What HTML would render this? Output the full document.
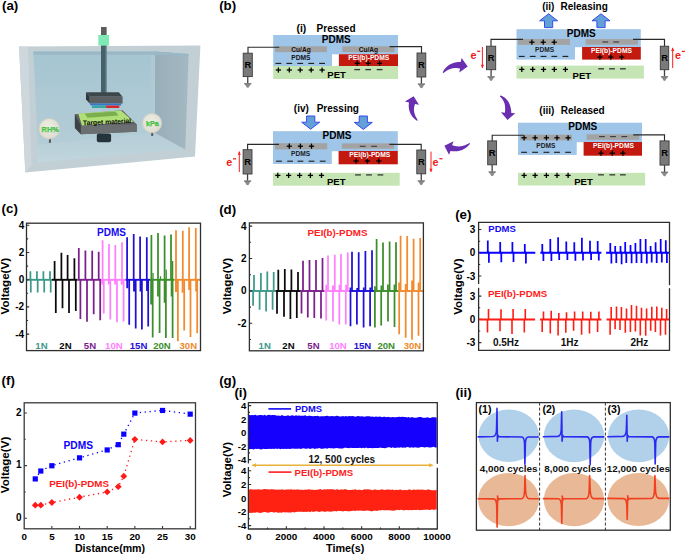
<!DOCTYPE html><html><head><meta charset="utf-8"><style>html,body{margin:0;padding:0;background:#fff;}svg{display:block;}text{font-family:"Liberation Sans",sans-serif;}</style></head><body>
<svg width="685" height="555" viewBox="0 0 685 555">
<rect x="0.00" y="0.00" width="685.00" height="555.00" fill="#fff" />
<text x="2.00" y="9.60" font-size="13.3" font-weight="bold" fill="#000" text-anchor="start" >(a)</text>
<text x="219.20" y="9.90" font-size="13.3" font-weight="bold" fill="#000" text-anchor="start" >(b)</text>
<text x="1.60" y="213.20" font-size="13.3" font-weight="bold" fill="#000" text-anchor="start" >(c)</text>
<text x="219.20" y="213.60" font-size="13.3" font-weight="bold" fill="#000" text-anchor="start" >(d)</text>
<text x="455.20" y="218.60" font-size="13.3" font-weight="bold" fill="#000" text-anchor="start" >(e)</text>
<text x="1.60" y="385.00" font-size="13.3" font-weight="bold" fill="#000" text-anchor="start" >(f)</text>
<text x="219.20" y="384.60" font-size="13.3" font-weight="bold" fill="#000" text-anchor="start" >(g)</text>
<g>
<defs><linearGradient id="bw" x1="0" y1="0" x2="0" y2="1"><stop offset="0" stop-color="#a5c5d1"/><stop offset="1" stop-color="#b4cdd7"/></linearGradient><linearGradient id="fl" x1="0" y1="0" x2="0" y2="1"><stop offset="0" stop-color="#b5cdd7"/><stop offset="1" stop-color="#c1d6de"/></linearGradient><linearGradient id="rw" x1="0" y1="0" x2="1" y2="0"><stop offset="0" stop-color="#98aeb9"/><stop offset="1" stop-color="#a3b8c1"/></linearGradient><radialGradient id="gauge" cx="0.45" cy="0.4" r="0.6"><stop offset="0" stop-color="#efeee4"/><stop offset="1" stop-color="#dedccf"/></radialGradient></defs>
<polygon points="19.00,46.50 200.40,45.50 195.00,156.40 25.30,172.50" fill="#c2cfd4" />
<polygon points="19.00,46.50 28.00,46.80 31.50,165.00 25.30,172.50" fill="#cdd7dc" />
<polygon points="33.40,51.40 155.00,51.40 155.00,133.00 37.70,145.00" fill="url(#bw)" />
<polygon points="37.70,145.00 155.00,133.00 185.30,149.60 37.70,162.60" fill="url(#fl)" />
<polygon points="155.00,51.40 188.60,53.90 185.30,149.60 155.00,133.00" fill="url(#rw)" />
<polygon points="150.50,51.40 155.00,51.40 155.00,133.00 150.50,134.00" fill="#b0cbd5" opacity="0.6"/>
<polygon points="33.40,51.40 155.00,51.40 188.60,53.90 188.60,56.00 155.00,54.80 33.40,54.80" fill="#9ab8c6" />
<rect x="101.00" y="27.00" width="5.40" height="66.00" fill="#47616b" />
<rect x="101.00" y="27.00" width="5.40" height="19.50" fill="#5b5d5f" />
<rect x="105.20" y="46.00" width="1.20" height="46.00" fill="#5e7c86" />
<rect x="98.30" y="35.00" width="10.70" height="10.60" fill="#80eab6" />
<polygon points="86.00,92.30 118.80,92.30 122.60,96.80 89.80,96.80" fill="#3c474c" />
<polygon points="86.00,92.30 89.80,96.80 89.80,103.60 86.00,99.50" fill="#2f383c" />
<rect x="89.80" y="96.80" width="32.80" height="6.80" fill="#5b5f62" />
<polygon points="89.50,103.60 121.20,103.60 121.20,105.60 90.80,105.60" fill="#3a76cc" />
<rect x="92.00" y="105.50" width="14.20" height="2.50" fill="#36a6a6" />
<rect x="106.10" y="105.50" width="13.20" height="2.50" fill="#d42a2a" />
<polygon points="74.90,114.20 122.50,110.30 136.80,124.50 136.80,131.70 80.90,134.20 74.90,128.00" fill="#5f6264" />
<polygon points="74.90,114.20 80.90,125.40 80.90,134.20 74.90,128.00" fill="#3e4346" />
<polygon points="80.90,125.40 136.80,124.50 136.80,131.70 80.90,134.20" fill="#6c6f71" />
<polygon points="78.20,113.50 121.00,110.50 133.60,121.80 82.00,125.60" fill="#b0df78" />
<polygon points="84.50,113.40 115.50,111.40 118.50,115.50 87.50,117.80" fill="#6a9e42" opacity="0.75"/>
<text x="107.00" y="124.20" font-size="6.8" font-weight="bold" fill="#0a0a0a" text-anchor="middle" transform="rotate(-2.6 107 122)">Target material</text>
<rect x="96.80" y="133.50" width="14.30" height="8.70" fill="#25333a" rx="2"/>
<rect x="48.90" y="137.50" width="2.10" height="5.30" fill="#5a5a5a" />
<circle cx="49.3" cy="128.8" r="10.3" fill="url(#gauge)" stroke="#cfcfc3" stroke-width="0.8"/>
<text x="50.20" y="132.20" font-size="7.4" font-weight="bold" fill="#44e044" text-anchor="middle" stroke="#3a9a3a" stroke-width="0.25">RH%</text>
<rect x="151.20" y="131.00" width="2.00" height="5.00" fill="#5a5a5a" />
<circle cx="152.1" cy="123.1" r="9.6" fill="url(#gauge)" stroke="#cfcfc3" stroke-width="0.8"/>
<text x="152.30" y="125.70" font-size="7.2" font-weight="bold" fill="#44e044" text-anchor="middle" stroke="#3a9a3a" stroke-width="0.25">kPa</text>
</g>
<g>
<rect x="273.20" y="35.00" width="124.80" height="19.30" fill="#9fc5e8" />
<rect x="273.20" y="54.00" width="58.80" height="12.00" fill="#9fc5e8" />
<rect x="338.90" y="54.20" width="59.10" height="11.80" fill="#c4190f" />
<rect x="273.20" y="66.00" width="124.80" height="13.00" fill="#c6e5b4" />
<rect x="275.10" y="46.30" width="51.80" height="5.80" fill="#a3a3a3" />
<rect x="342.30" y="46.30" width="52.20" height="5.80" fill="#a3a3a3" />
<text x="296.50" y="32.00" font-size="10.4" font-weight="bold" fill="#000" text-anchor="start" >(i)</text>
<text x="316.60" y="31.90" font-size="10" font-weight="bold" fill="#000" text-anchor="start" >Pressed</text>
<text x="336.30" y="43.00" font-size="10" font-weight="bold" fill="#000" text-anchor="middle" >PDMS</text>
<text x="301.00" y="51.60" font-size="6.6" font-weight="bold" fill="#111" text-anchor="middle" >Cu/Ag</text>
<text x="368.40" y="51.60" font-size="6.6" font-weight="bold" fill="#111" text-anchor="middle" >Cu/Ag</text>
<text x="300.90" y="59.90" font-size="6.6" font-weight="bold" fill="#111" text-anchor="middle" >PDMS</text>
<text x="368.80" y="60.30" font-size="6.7" font-weight="bold" fill="#fff" text-anchor="middle" >PEI(b)-PDMS</text>
<line x1="275.50" y1="63.40" x2="281.30" y2="63.40" stroke="#1a1a1a" stroke-width="1.1" />
<line x1="275.80" y1="70.00" x2="281.00" y2="70.00" stroke="#000" stroke-width="1.3" />
<line x1="278.40" y1="67.40" x2="278.40" y2="72.60" stroke="#000" stroke-width="1.3" />
<line x1="286.40" y1="63.40" x2="292.20" y2="63.40" stroke="#1a1a1a" stroke-width="1.1" />
<line x1="286.70" y1="70.00" x2="291.90" y2="70.00" stroke="#000" stroke-width="1.3" />
<line x1="289.30" y1="67.40" x2="289.30" y2="72.60" stroke="#000" stroke-width="1.3" />
<line x1="297.30" y1="63.40" x2="303.10" y2="63.40" stroke="#1a1a1a" stroke-width="1.1" />
<line x1="297.60" y1="70.00" x2="302.80" y2="70.00" stroke="#000" stroke-width="1.3" />
<line x1="300.20" y1="67.40" x2="300.20" y2="72.60" stroke="#000" stroke-width="1.3" />
<line x1="308.30" y1="63.40" x2="314.10" y2="63.40" stroke="#1a1a1a" stroke-width="1.1" />
<line x1="308.60" y1="70.00" x2="313.80" y2="70.00" stroke="#000" stroke-width="1.3" />
<line x1="311.20" y1="67.40" x2="311.20" y2="72.60" stroke="#000" stroke-width="1.3" />
<line x1="319.20" y1="63.40" x2="325.00" y2="63.40" stroke="#1a1a1a" stroke-width="1.1" />
<line x1="319.50" y1="70.00" x2="324.70" y2="70.00" stroke="#000" stroke-width="1.3" />
<line x1="322.10" y1="67.40" x2="322.10" y2="72.60" stroke="#000" stroke-width="1.3" />
<line x1="354.60" y1="63.30" x2="359.80" y2="63.30" stroke="#000" stroke-width="1.3" />
<line x1="357.20" y1="60.70" x2="357.20" y2="65.90" stroke="#000" stroke-width="1.3" />
<line x1="354.30" y1="69.60" x2="360.10" y2="69.60" stroke="#3c3c3c" stroke-width="1.35" />
<line x1="365.60" y1="63.30" x2="370.80" y2="63.30" stroke="#000" stroke-width="1.3" />
<line x1="368.20" y1="60.70" x2="368.20" y2="65.90" stroke="#000" stroke-width="1.3" />
<line x1="365.30" y1="69.60" x2="371.10" y2="69.60" stroke="#3c3c3c" stroke-width="1.35" />
<line x1="377.00" y1="63.30" x2="382.20" y2="63.30" stroke="#000" stroke-width="1.3" />
<line x1="379.60" y1="60.70" x2="379.60" y2="65.90" stroke="#000" stroke-width="1.3" />
<line x1="376.70" y1="69.60" x2="382.50" y2="69.60" stroke="#3c3c3c" stroke-width="1.35" />
<text x="336.60" y="78.40" font-size="9.5" font-weight="bold" fill="#000" text-anchor="middle" >PET</text>
<polyline points="248.00,53.20 248.00,47.20 279.30,47.20" fill="none" stroke="#2a2a2a" stroke-width="1.15"/>
<polyline points="389.60,46.60 421.50,46.60 421.50,53.00" fill="none" stroke="#2a2a2a" stroke-width="1.15"/>
<rect x="243.20" y="53.20" width="9.10" height="23.40" fill="#7a7a7a" stroke="#3a3a3a" stroke-width="0.9"/>
<text x="247.85" y="67.60" font-size="9.4" font-weight="bold" fill="#000" text-anchor="middle" >R</text>
<line x1="247.75" y1="76.60" x2="247.75" y2="83.50" stroke="#404040" stroke-width="1.3" />
<polygon points="244.15,83.20 251.35,83.20 248.95,87.00 246.55,87.00" fill="#8c8c8c" />
<line x1="244.15" y1="83.80" x2="251.35" y2="83.80" stroke="#777" stroke-width="1.1" />
<line x1="246.75" y1="87.20" x2="248.75" y2="87.20" stroke="#777" stroke-width="0.9" />
<rect x="417.00" y="53.00" width="8.80" height="24.00" fill="#7a7a7a" stroke="#3a3a3a" stroke-width="0.9"/>
<text x="421.50" y="67.70" font-size="9.4" font-weight="bold" fill="#000" text-anchor="middle" >R</text>
<line x1="421.40" y1="77.00" x2="421.40" y2="83.90" stroke="#404040" stroke-width="1.3" />
<polygon points="417.80,83.60 425.00,83.60 422.60,87.40 420.20,87.40" fill="#8c8c8c" />
<line x1="417.80" y1="84.20" x2="425.00" y2="84.20" stroke="#777" stroke-width="1.1" />
<line x1="420.40" y1="87.60" x2="422.40" y2="87.60" stroke="#777" stroke-width="0.9" />
<polygon points="548.60,13.80 557.60,20.80 552.70,20.80 552.70,27.60 544.50,27.60 544.50,20.80 539.60,20.80" fill="#64a0d8" stroke="#2f45ee" stroke-width="0.95"/>
<polygon points="601.00,13.80 610.00,20.80 605.10,20.80 605.10,27.60 596.90,27.60 596.90,20.80 592.00,20.80" fill="#64a0d8" stroke="#2f45ee" stroke-width="0.95"/>
<rect x="516.50" y="29.20" width="124.30" height="18.00" fill="#9fc5e8" />
<rect x="516.50" y="47.00" width="58.50" height="12.60" fill="#9fc5e8" />
<rect x="582.10" y="47.00" width="58.70" height="12.60" fill="#c4190f" />
<rect x="516.50" y="65.60" width="127.40" height="13.00" fill="#c6e5b4" />
<rect x="518.00" y="38.90" width="52.00" height="6.00" fill="#a3a3a3" />
<rect x="585.60" y="39.10" width="52.40" height="5.60" fill="#a3a3a3" />
<text x="542.20" y="10.30" font-size="10" font-weight="bold" fill="#000" text-anchor="start" >(ii)</text>
<text x="560.50" y="10.30" font-size="10" font-weight="bold" fill="#000" text-anchor="start" >Releasing</text>
<text x="581.30" y="36.80" font-size="10" font-weight="bold" fill="#000" text-anchor="middle" >PDMS</text>
<line x1="529.30" y1="42.20" x2="534.50" y2="42.20" stroke="#000" stroke-width="1.3" />
<line x1="531.90" y1="39.60" x2="531.90" y2="44.80" stroke="#000" stroke-width="1.3" />
<line x1="540.60" y1="42.20" x2="545.80" y2="42.20" stroke="#000" stroke-width="1.3" />
<line x1="543.20" y1="39.60" x2="543.20" y2="44.80" stroke="#000" stroke-width="1.3" />
<line x1="551.60" y1="42.20" x2="556.80" y2="42.20" stroke="#000" stroke-width="1.3" />
<line x1="554.20" y1="39.60" x2="554.20" y2="44.80" stroke="#000" stroke-width="1.3" />
<text x="544.60" y="52.40" font-size="6.6" font-weight="bold" fill="#222" text-anchor="middle" >PDMS</text>
<line x1="518.90" y1="56.40" x2="524.70" y2="56.40" stroke="#1a1a1a" stroke-width="1.1" />
<line x1="519.20" y1="69.40" x2="524.40" y2="69.40" stroke="#000" stroke-width="1.3" />
<line x1="521.80" y1="66.80" x2="521.80" y2="72.00" stroke="#000" stroke-width="1.3" />
<line x1="529.80" y1="56.40" x2="535.60" y2="56.40" stroke="#1a1a1a" stroke-width="1.1" />
<line x1="530.10" y1="69.40" x2="535.30" y2="69.40" stroke="#000" stroke-width="1.3" />
<line x1="532.70" y1="66.80" x2="532.70" y2="72.00" stroke="#000" stroke-width="1.3" />
<line x1="540.60" y1="56.40" x2="546.40" y2="56.40" stroke="#1a1a1a" stroke-width="1.1" />
<line x1="540.90" y1="69.40" x2="546.10" y2="69.40" stroke="#000" stroke-width="1.3" />
<line x1="543.50" y1="66.80" x2="543.50" y2="72.00" stroke="#000" stroke-width="1.3" />
<line x1="551.40" y1="56.40" x2="557.20" y2="56.40" stroke="#1a1a1a" stroke-width="1.1" />
<line x1="551.70" y1="69.40" x2="556.90" y2="69.40" stroke="#000" stroke-width="1.3" />
<line x1="554.30" y1="66.80" x2="554.30" y2="72.00" stroke="#000" stroke-width="1.3" />
<line x1="562.50" y1="56.40" x2="568.30" y2="56.40" stroke="#1a1a1a" stroke-width="1.1" />
<line x1="562.80" y1="69.40" x2="568.00" y2="69.40" stroke="#000" stroke-width="1.3" />
<line x1="565.40" y1="66.80" x2="565.40" y2="72.00" stroke="#000" stroke-width="1.3" />
<line x1="602.40" y1="42.00" x2="608.20" y2="42.00" stroke="#3a3a3a" stroke-width="1.1" />
<line x1="613.30" y1="42.00" x2="619.10" y2="42.00" stroke="#3a3a3a" stroke-width="1.1" />
<text x="611.50" y="53.00" font-size="6.7" font-weight="bold" fill="#fff" text-anchor="middle" >PEI(b)-PDMS</text>
<line x1="597.30" y1="57.10" x2="602.50" y2="57.10" stroke="#000" stroke-width="1.3" />
<line x1="599.90" y1="54.50" x2="599.90" y2="59.70" stroke="#000" stroke-width="1.3" />
<line x1="608.20" y1="57.10" x2="613.40" y2="57.10" stroke="#000" stroke-width="1.3" />
<line x1="610.80" y1="54.50" x2="610.80" y2="59.70" stroke="#000" stroke-width="1.3" />
<line x1="619.10" y1="57.10" x2="624.30" y2="57.10" stroke="#000" stroke-width="1.3" />
<line x1="621.70" y1="54.50" x2="621.70" y2="59.70" stroke="#000" stroke-width="1.3" />
<line x1="598.20" y1="68.80" x2="604.00" y2="68.80" stroke="#3c3c3c" stroke-width="1.35" />
<line x1="609.10" y1="68.80" x2="614.90" y2="68.80" stroke="#3c3c3c" stroke-width="1.35" />
<line x1="620.00" y1="68.80" x2="625.80" y2="68.80" stroke="#3c3c3c" stroke-width="1.35" />
<text x="581.80" y="78.60" font-size="9.5" font-weight="bold" fill="#000" text-anchor="middle" >PET</text>
<polyline points="491.00,46.20 491.00,39.40 523.00,39.40" fill="none" stroke="#2a2a2a" stroke-width="1.15"/>
<polyline points="633.00,39.40 664.50,39.40 664.50,46.20" fill="none" stroke="#2a2a2a" stroke-width="1.15"/>
<rect x="486.50" y="46.20" width="9.20" height="23.50" fill="#7a7a7a" stroke="#3a3a3a" stroke-width="0.9"/>
<text x="491.20" y="60.65" font-size="9.4" font-weight="bold" fill="#000" text-anchor="middle" >R</text>
<line x1="491.10" y1="69.70" x2="491.10" y2="76.60" stroke="#404040" stroke-width="1.3" />
<polygon points="487.50,76.30 494.70,76.30 492.30,80.10 489.90,80.10" fill="#8c8c8c" />
<line x1="487.50" y1="76.90" x2="494.70" y2="76.90" stroke="#777" stroke-width="1.1" />
<line x1="490.10" y1="80.30" x2="492.10" y2="80.30" stroke="#777" stroke-width="0.9" />
<rect x="660.30" y="46.20" width="8.40" height="23.50" fill="#7a7a7a" stroke="#3a3a3a" stroke-width="0.9"/>
<text x="664.60" y="60.65" font-size="9.4" font-weight="bold" fill="#000" text-anchor="middle" >R</text>
<line x1="664.50" y1="69.70" x2="664.50" y2="76.60" stroke="#404040" stroke-width="1.3" />
<polygon points="660.90,76.30 668.10,76.30 665.70,80.10 663.30,80.10" fill="#8c8c8c" />
<line x1="660.90" y1="76.90" x2="668.10" y2="76.90" stroke="#777" stroke-width="1.1" />
<line x1="663.50" y1="80.30" x2="665.50" y2="80.30" stroke="#777" stroke-width="0.9" />
<line x1="482.40" y1="47.00" x2="482.40" y2="68.00" stroke="#ff1c1c" stroke-width="1" />
<polygon points="480.80,64.80 484.00,64.80 482.40,68.00" fill="#ff1c1c" />
<text x="470.40" y="58.90" font-size="10.8" font-weight="bold" fill="#f02020" text-anchor="start" >e</text>
<line x1="477.20" y1="51.30" x2="480.30" y2="51.30" stroke="#f02020" stroke-width="1.3" />
<line x1="672.70" y1="68.00" x2="672.70" y2="47.80" stroke="#ff1c1c" stroke-width="1" />
<polygon points="671.10,51.00 674.30,51.00 672.70,47.80" fill="#ff1c1c" />
<text x="675.00" y="59.00" font-size="10.8" font-weight="bold" fill="#f02020" text-anchor="start" >e</text>
<line x1="681.80" y1="51.40" x2="684.90" y2="51.40" stroke="#f02020" stroke-width="1.3" />
<rect x="518.00" y="122.70" width="124.00" height="19.50" fill="#9fc5e8" />
<rect x="518.00" y="142.00" width="58.70" height="12.90" fill="#9fc5e8" />
<rect x="583.60" y="142.00" width="58.40" height="13.70" fill="#c4190f" />
<rect x="518.00" y="172.80" width="127.10" height="12.70" fill="#c6e5b4" />
<rect x="520.20" y="134.70" width="51.80" height="5.60" fill="#a3a3a3" />
<rect x="586.60" y="134.30" width="52.60" height="5.50" fill="#a3a3a3" />
<text x="539.30" y="113.50" font-size="10" font-weight="bold" fill="#000" text-anchor="start" >(iii)</text>
<text x="560.80" y="113.50" font-size="10" font-weight="bold" fill="#000" text-anchor="start" >Released</text>
<text x="582.70" y="130.20" font-size="10" font-weight="bold" fill="#000" text-anchor="middle" >PDMS</text>
<line x1="521.50" y1="137.80" x2="526.70" y2="137.80" stroke="#000" stroke-width="1.3" />
<line x1="524.10" y1="135.20" x2="524.10" y2="140.40" stroke="#000" stroke-width="1.3" />
<line x1="521.20" y1="152.30" x2="527.00" y2="152.30" stroke="#1a1a1a" stroke-width="1.1" />
<line x1="521.50" y1="175.40" x2="526.70" y2="175.40" stroke="#000" stroke-width="1.3" />
<line x1="524.10" y1="172.80" x2="524.10" y2="178.00" stroke="#000" stroke-width="1.3" />
<line x1="532.50" y1="137.80" x2="537.70" y2="137.80" stroke="#000" stroke-width="1.3" />
<line x1="535.10" y1="135.20" x2="535.10" y2="140.40" stroke="#000" stroke-width="1.3" />
<line x1="532.20" y1="152.30" x2="538.00" y2="152.30" stroke="#1a1a1a" stroke-width="1.1" />
<line x1="532.50" y1="175.40" x2="537.70" y2="175.40" stroke="#000" stroke-width="1.3" />
<line x1="535.10" y1="172.80" x2="535.10" y2="178.00" stroke="#000" stroke-width="1.3" />
<line x1="543.80" y1="137.80" x2="549.00" y2="137.80" stroke="#000" stroke-width="1.3" />
<line x1="546.40" y1="135.20" x2="546.40" y2="140.40" stroke="#000" stroke-width="1.3" />
<line x1="543.50" y1="152.30" x2="549.30" y2="152.30" stroke="#1a1a1a" stroke-width="1.1" />
<line x1="543.80" y1="175.40" x2="549.00" y2="175.40" stroke="#000" stroke-width="1.3" />
<line x1="546.40" y1="172.80" x2="546.40" y2="178.00" stroke="#000" stroke-width="1.3" />
<line x1="554.40" y1="137.80" x2="559.60" y2="137.80" stroke="#000" stroke-width="1.3" />
<line x1="557.00" y1="135.20" x2="557.00" y2="140.40" stroke="#000" stroke-width="1.3" />
<line x1="554.10" y1="152.30" x2="559.90" y2="152.30" stroke="#1a1a1a" stroke-width="1.1" />
<line x1="554.40" y1="175.40" x2="559.60" y2="175.40" stroke="#000" stroke-width="1.3" />
<line x1="557.00" y1="172.80" x2="557.00" y2="178.00" stroke="#000" stroke-width="1.3" />
<line x1="565.50" y1="137.80" x2="570.70" y2="137.80" stroke="#000" stroke-width="1.3" />
<line x1="568.10" y1="135.20" x2="568.10" y2="140.40" stroke="#000" stroke-width="1.3" />
<line x1="565.20" y1="152.30" x2="571.00" y2="152.30" stroke="#1a1a1a" stroke-width="1.1" />
<line x1="565.50" y1="175.40" x2="570.70" y2="175.40" stroke="#000" stroke-width="1.3" />
<line x1="568.10" y1="172.80" x2="568.10" y2="178.00" stroke="#000" stroke-width="1.3" />
<text x="545.90" y="148.00" font-size="6.6" font-weight="bold" fill="#222" text-anchor="middle" >PDMS</text>
<line x1="599.10" y1="136.60" x2="604.90" y2="136.60" stroke="#3a3a3a" stroke-width="1.1" />
<line x1="610.10" y1="136.60" x2="615.90" y2="136.60" stroke="#3a3a3a" stroke-width="1.1" />
<line x1="621.40" y1="136.60" x2="627.20" y2="136.60" stroke="#3a3a3a" stroke-width="1.1" />
<text x="613.50" y="148.20" font-size="6.7" font-weight="bold" fill="#fff" text-anchor="middle" >PEI(b)-PDMS</text>
<line x1="598.40" y1="153.20" x2="603.60" y2="153.20" stroke="#000" stroke-width="1.3" />
<line x1="601.00" y1="150.60" x2="601.00" y2="155.80" stroke="#000" stroke-width="1.3" />
<line x1="598.10" y1="174.80" x2="603.90" y2="174.80" stroke="#4a4f4a" stroke-width="1.5" />
<line x1="609.70" y1="153.20" x2="614.90" y2="153.20" stroke="#000" stroke-width="1.3" />
<line x1="612.30" y1="150.60" x2="612.30" y2="155.80" stroke="#000" stroke-width="1.3" />
<line x1="609.40" y1="174.80" x2="615.20" y2="174.80" stroke="#4a4f4a" stroke-width="1.5" />
<line x1="620.30" y1="153.20" x2="625.50" y2="153.20" stroke="#000" stroke-width="1.3" />
<line x1="622.90" y1="150.60" x2="622.90" y2="155.80" stroke="#000" stroke-width="1.3" />
<line x1="620.00" y1="174.80" x2="625.80" y2="174.80" stroke="#4a4f4a" stroke-width="1.5" />
<text x="583.50" y="184.80" font-size="9.5" font-weight="bold" fill="#000" text-anchor="middle" >PET</text>
<polyline points="492.20,140.90 492.20,135.20 523.60,135.20" fill="none" stroke="#2a2a2a" stroke-width="1.15"/>
<polyline points="633.20,134.90 664.50,134.90 664.50,140.90" fill="none" stroke="#2a2a2a" stroke-width="1.15"/>
<rect x="487.70" y="140.90" width="8.90" height="23.90" fill="#7a7a7a" stroke="#3a3a3a" stroke-width="0.9"/>
<text x="492.25" y="155.55" font-size="9.4" font-weight="bold" fill="#000" text-anchor="middle" >R</text>
<line x1="492.15" y1="164.80" x2="492.15" y2="171.70" stroke="#404040" stroke-width="1.3" />
<polygon points="488.55,171.40 495.75,171.40 493.35,175.20 490.95,175.20" fill="#8c8c8c" />
<line x1="488.55" y1="172.00" x2="495.75" y2="172.00" stroke="#777" stroke-width="1.1" />
<line x1="491.15" y1="175.40" x2="493.15" y2="175.40" stroke="#777" stroke-width="0.9" />
<rect x="660.00" y="140.90" width="9.10" height="24.20" fill="#7a7a7a" stroke="#3a3a3a" stroke-width="0.9"/>
<text x="664.65" y="155.70" font-size="9.4" font-weight="bold" fill="#000" text-anchor="middle" >R</text>
<line x1="664.55" y1="165.10" x2="664.55" y2="172.00" stroke="#404040" stroke-width="1.3" />
<polygon points="660.95,171.70 668.15,171.70 665.75,175.50 663.35,175.50" fill="#8c8c8c" />
<line x1="660.95" y1="172.30" x2="668.15" y2="172.30" stroke="#777" stroke-width="1.1" />
<line x1="663.55" y1="175.70" x2="665.55" y2="175.70" stroke="#777" stroke-width="0.9" />
<polygon points="310.70,129.20 319.70,122.20 314.80,122.20 314.80,116.00 306.60,116.00 306.60,122.20 301.70,122.20" fill="#64a0d8" stroke="#2f45ee" stroke-width="0.95"/>
<polygon points="363.30,129.40 372.30,122.40 367.40,122.40 367.40,116.00 359.20,116.00 359.20,122.40 354.30,122.40" fill="#64a0d8" stroke="#2f45ee" stroke-width="0.95"/>
<rect x="273.00" y="131.20" width="124.80" height="20.00" fill="#9fc5e8" />
<rect x="273.00" y="151.00" width="58.80" height="13.00" fill="#9fc5e8" />
<rect x="338.60" y="151.00" width="59.20" height="13.30" fill="#c4190f" />
<rect x="273.00" y="172.80" width="126.70" height="12.90" fill="#c6e5b4" />
<rect x="275.00" y="143.20" width="52.20" height="6.20" fill="#a3a3a3" />
<rect x="341.80" y="143.40" width="52.20" height="5.30" fill="#a3a3a3" />
<text x="293.80" y="112.10" font-size="10" font-weight="bold" fill="#000" text-anchor="start" >(iv)</text>
<text x="316.70" y="112.10" font-size="10" font-weight="bold" fill="#000" text-anchor="start" >Pressing</text>
<text x="337.00" y="139.20" font-size="10" font-weight="bold" fill="#000" text-anchor="middle" >PDMS</text>
<line x1="286.70" y1="146.20" x2="291.90" y2="146.20" stroke="#000" stroke-width="1.3" />
<line x1="289.30" y1="143.60" x2="289.30" y2="148.80" stroke="#000" stroke-width="1.3" />
<line x1="297.80" y1="146.20" x2="303.00" y2="146.20" stroke="#000" stroke-width="1.3" />
<line x1="300.40" y1="143.60" x2="300.40" y2="148.80" stroke="#000" stroke-width="1.3" />
<line x1="308.90" y1="146.20" x2="314.10" y2="146.20" stroke="#000" stroke-width="1.3" />
<line x1="311.50" y1="143.60" x2="311.50" y2="148.80" stroke="#000" stroke-width="1.3" />
<text x="300.60" y="156.30" font-size="6.6" font-weight="bold" fill="#222" text-anchor="middle" >PDMS</text>
<line x1="276.10" y1="161.20" x2="281.90" y2="161.20" stroke="#1a1a1a" stroke-width="1.1" />
<line x1="287.20" y1="161.20" x2="293.00" y2="161.20" stroke="#1a1a1a" stroke-width="1.1" />
<line x1="297.50" y1="161.20" x2="303.30" y2="161.20" stroke="#1a1a1a" stroke-width="1.1" />
<line x1="308.60" y1="161.20" x2="314.40" y2="161.20" stroke="#1a1a1a" stroke-width="1.1" />
<line x1="319.80" y1="161.20" x2="325.60" y2="161.20" stroke="#1a1a1a" stroke-width="1.1" />
<line x1="275.20" y1="175.40" x2="280.40" y2="175.40" stroke="#000" stroke-width="1.3" />
<line x1="277.80" y1="172.80" x2="277.80" y2="178.00" stroke="#000" stroke-width="1.3" />
<line x1="286.00" y1="175.40" x2="291.20" y2="175.40" stroke="#000" stroke-width="1.3" />
<line x1="288.60" y1="172.80" x2="288.60" y2="178.00" stroke="#000" stroke-width="1.3" />
<line x1="297.00" y1="175.40" x2="302.20" y2="175.40" stroke="#000" stroke-width="1.3" />
<line x1="299.60" y1="172.80" x2="299.60" y2="178.00" stroke="#000" stroke-width="1.3" />
<line x1="307.80" y1="175.40" x2="313.00" y2="175.40" stroke="#000" stroke-width="1.3" />
<line x1="310.40" y1="172.80" x2="310.40" y2="178.00" stroke="#000" stroke-width="1.3" />
<line x1="318.90" y1="175.40" x2="324.10" y2="175.40" stroke="#000" stroke-width="1.3" />
<line x1="321.50" y1="172.80" x2="321.50" y2="178.00" stroke="#000" stroke-width="1.3" />
<line x1="359.80" y1="146.30" x2="365.60" y2="146.30" stroke="#3a3a3a" stroke-width="1.1" />
<line x1="371.20" y1="146.30" x2="377.00" y2="146.30" stroke="#3a3a3a" stroke-width="1.1" />
<text x="369.80" y="156.70" font-size="6.7" font-weight="bold" fill="#fff" text-anchor="middle" >PEI(b)-PDMS</text>
<line x1="353.50" y1="161.00" x2="358.70" y2="161.00" stroke="#000" stroke-width="1.3" />
<line x1="356.10" y1="158.40" x2="356.10" y2="163.60" stroke="#000" stroke-width="1.3" />
<line x1="364.80" y1="161.00" x2="370.00" y2="161.00" stroke="#000" stroke-width="1.3" />
<line x1="367.40" y1="158.40" x2="367.40" y2="163.60" stroke="#000" stroke-width="1.3" />
<line x1="376.20" y1="161.00" x2="381.40" y2="161.00" stroke="#000" stroke-width="1.3" />
<line x1="378.80" y1="158.40" x2="378.80" y2="163.60" stroke="#000" stroke-width="1.3" />
<line x1="355.10" y1="174.90" x2="360.90" y2="174.90" stroke="#4a4f4a" stroke-width="1.5" />
<line x1="366.10" y1="174.90" x2="371.90" y2="174.90" stroke="#4a4f4a" stroke-width="1.5" />
<line x1="377.50" y1="174.90" x2="383.30" y2="174.90" stroke="#4a4f4a" stroke-width="1.5" />
<text x="336.20" y="185.20" font-size="9.5" font-weight="bold" fill="#000" text-anchor="middle" >PET</text>
<polyline points="247.60,149.70 247.60,144.30 279.00,144.30" fill="none" stroke="#2a2a2a" stroke-width="1.15"/>
<polyline points="389.30,144.30 421.20,144.30 421.20,150.00" fill="none" stroke="#2a2a2a" stroke-width="1.15"/>
<rect x="243.10" y="149.70" width="8.90" height="24.30" fill="#7a7a7a" stroke="#3a3a3a" stroke-width="0.9"/>
<text x="247.65" y="164.55" font-size="9.4" font-weight="bold" fill="#000" text-anchor="middle" >R</text>
<line x1="247.55" y1="174.00" x2="247.55" y2="180.90" stroke="#404040" stroke-width="1.3" />
<polygon points="243.95,180.60 251.15,180.60 248.75,184.40 246.35,184.40" fill="#8c8c8c" />
<line x1="243.95" y1="181.20" x2="251.15" y2="181.20" stroke="#777" stroke-width="1.1" />
<line x1="246.55" y1="184.60" x2="248.55" y2="184.60" stroke="#777" stroke-width="0.9" />
<rect x="416.80" y="150.00" width="8.90" height="23.80" fill="#7a7a7a" stroke="#3a3a3a" stroke-width="0.9"/>
<text x="421.35" y="164.60" font-size="9.4" font-weight="bold" fill="#000" text-anchor="middle" >R</text>
<line x1="421.25" y1="173.80" x2="421.25" y2="180.70" stroke="#404040" stroke-width="1.3" />
<polygon points="417.65,180.40 424.85,180.40 422.45,184.20 420.05,184.20" fill="#8c8c8c" />
<line x1="417.65" y1="181.00" x2="424.85" y2="181.00" stroke="#777" stroke-width="1.1" />
<line x1="420.25" y1="184.40" x2="422.25" y2="184.40" stroke="#777" stroke-width="0.9" />
<line x1="239.30" y1="172.00" x2="239.30" y2="151.50" stroke="#ff1c1c" stroke-width="1" />
<polygon points="237.70,154.70 240.90,154.70 239.30,151.50" fill="#ff1c1c" />
<text x="226.20" y="166.40" font-size="10.8" font-weight="bold" fill="#f02020" text-anchor="start" >e</text>
<line x1="233.00" y1="158.80" x2="236.10" y2="158.80" stroke="#f02020" stroke-width="1.3" />
<line x1="431.00" y1="151.60" x2="431.00" y2="171.90" stroke="#ff1c1c" stroke-width="1" />
<polygon points="429.40,168.70 432.60,168.70 431.00,171.90" fill="#ff1c1c" />
<text x="432.60" y="166.30" font-size="10.8" font-weight="bold" fill="#f02020" text-anchor="start" >e</text>
<line x1="439.40" y1="158.70" x2="442.50" y2="158.70" stroke="#f02020" stroke-width="1.3" />
<polygon points="443.28,73.01 443.89,72.65 444.42,72.26 444.94,71.88 445.45,71.52 445.95,71.17 446.45,70.84 446.95,70.53 447.45,70.24 447.95,69.97 448.45,69.71 448.95,69.48 449.45,69.26 449.95,69.07 450.46,68.89 450.96,68.73 451.47,68.58 451.97,68.46 452.48,68.35 453.00,68.26 453.51,68.18 454.03,68.12 454.56,68.08 455.08,68.05 455.62,68.03 456.15,68.04 456.70,68.05 457.25,68.09 457.80,68.14 458.37,68.20 458.94,68.28 459.51,68.38 460.10,68.49 459.22,72.40 467.70,66.40 461.58,58.00 460.70,61.91 459.93,61.92 459.17,61.95 458.42,61.99 457.69,62.06 456.96,62.16 456.24,62.27 455.53,62.41 454.83,62.57 454.15,62.75 453.48,62.95 452.82,63.17 452.17,63.42 451.54,63.69 450.92,63.98 450.32,64.28 449.73,64.62 449.16,64.97 448.60,65.34 448.06,65.73 447.53,66.14 447.02,66.56 446.53,67.01 446.06,67.48 445.60,67.96 445.16,68.47 444.73,68.99 444.33,69.53 443.94,70.08 443.58,70.66 443.24,71.26 442.93,71.89 442.72,72.59" fill="#6a2eb0" />
<polygon points="499.83,96.21 500.23,96.72 500.63,97.15 501.03,97.57 501.40,97.98 501.76,98.40 502.09,98.82 502.41,99.25 502.70,99.68 502.98,100.11 503.24,100.55 503.48,101.00 503.70,101.45 503.91,101.91 504.10,102.38 504.27,102.85 504.43,103.33 504.57,103.83 504.69,104.33 504.81,104.84 504.90,105.37 504.98,105.90 505.05,106.45 505.10,107.01 505.14,107.58 505.16,108.17 505.17,108.77 505.16,109.38 505.14,110.01 505.10,110.65 505.05,111.31 504.99,111.98 504.90,112.67 500.92,112.29 507.60,119.90 515.28,113.31 511.30,112.93 511.26,112.09 511.20,111.27 511.12,110.47 511.02,109.68 510.90,108.91 510.76,108.15 510.60,107.41 510.42,106.68 510.22,105.97 510.00,105.28 509.75,104.60 509.49,103.95 509.20,103.31 508.90,102.69 508.57,102.09 508.22,101.52 507.86,100.96 507.47,100.42 507.06,99.91 506.64,99.42 506.19,98.95 505.73,98.50 505.25,98.08 504.76,97.69 504.25,97.31 503.72,96.97 503.17,96.65 502.61,96.36 502.04,96.09 501.45,95.86 500.83,95.67 500.17,95.59" fill="#6a2eb0" />
<polygon points="417.84,120.35 417.53,119.70 417.18,119.13 416.84,118.57 416.52,118.02 416.21,117.48 415.92,116.95 415.66,116.42 415.41,115.89 415.18,115.37 414.98,114.86 414.79,114.34 414.62,113.83 414.47,113.33 414.35,112.82 414.24,112.32 414.14,111.82 414.07,111.33 414.02,110.84 413.98,110.35 413.96,109.86 413.96,109.37 413.97,108.88 414.00,108.39 414.05,107.91 414.11,107.42 414.19,106.93 414.29,106.44 414.40,105.94 414.53,105.45 414.67,104.95 414.83,104.44 415.01,103.94 419.02,104.80 413.60,96.20 404.98,101.60 408.99,102.46 408.89,103.18 408.81,103.89 408.76,104.59 408.73,105.29 408.72,105.98 408.74,106.67 408.78,107.35 408.85,108.02 408.94,108.68 409.06,109.34 409.20,109.99 409.37,110.62 409.55,111.25 409.76,111.87 410.00,112.48 410.26,113.08 410.53,113.66 410.84,114.24 411.16,114.80 411.50,115.35 411.87,115.89 412.26,116.41 412.66,116.93 413.09,117.43 413.54,117.92 414.01,118.40 414.50,118.86 415.01,119.31 415.54,119.74 416.10,120.15 416.69,120.54 417.36,120.85" fill="#6a2eb0" />
<polygon points="469.57,143.04 468.90,143.32 468.29,143.63 467.70,143.94 467.13,144.23 466.55,144.51 465.99,144.77 465.43,145.00 464.87,145.23 464.32,145.43 463.77,145.61 463.22,145.77 462.68,145.92 462.14,146.04 461.60,146.15 461.07,146.23 460.54,146.30 460.01,146.36 459.48,146.39 458.96,146.41 458.43,146.41 457.91,146.39 457.39,146.36 456.86,146.31 456.34,146.24 455.82,146.16 455.29,146.06 454.76,145.94 454.24,145.81 453.70,145.66 453.17,145.49 452.63,145.31 452.09,145.11 453.58,141.17 444.40,145.70 449.02,154.83 450.51,150.89 451.24,151.02 451.96,151.13 452.69,151.21 453.41,151.27 454.12,151.31 454.83,151.32 455.53,151.31 456.22,151.27 456.91,151.21 457.59,151.13 458.27,151.02 458.93,150.89 459.59,150.74 460.24,150.57 460.88,150.37 461.51,150.15 462.13,149.90 462.75,149.64 463.35,149.35 463.94,149.04 464.52,148.71 465.09,148.35 465.65,147.98 466.19,147.59 466.73,147.17 467.25,146.74 467.77,146.28 468.26,145.80 468.75,145.29 469.22,144.76 469.66,144.20 470.03,143.56" fill="#6a2eb0" />
</g>
<path d="M26.50,279.80H52.00" fill="none" stroke="#3d9a8a" stroke-width="1.9" />
<path d="M30.40,279.80V271.30M30.80,279.80V292.40M36.90,279.80V271.30M37.70,279.80V292.40M43.40,279.80V271.30M44.20,279.80V292.40M50.00,279.80V271.30M50.70,279.80V292.40" fill="none" stroke="#3d9a8a" stroke-width="1.75" />
<path d="M52.00,279.80H77.50" fill="none" stroke="#0a0a0a" stroke-width="1.9" />
<path d="M54.60,279.80V260.90M55.80,279.80V313.00M61.40,279.80V252.80M62.50,279.80V308.20M67.60,279.80V255.00M69.00,279.80V313.00M74.40,279.80V258.30M75.80,279.80V311.00" fill="none" stroke="#0a0a0a" stroke-width="1.75" />
<path d="M77.50,279.80H101.50" fill="none" stroke="#7b1f8c" stroke-width="1.9" />
<path d="M78.80,279.80V247.90M80.40,279.80V319.10M85.40,279.80V250.50M87.00,279.80V321.70M92.20,279.80V250.70M93.70,279.80V314.30M98.70,279.80V251.80M100.20,279.80V320.20" fill="none" stroke="#7b1f8c" stroke-width="1.75" />
<path d="M101.50,279.80H125.50" fill="none" stroke="#ff80ff" stroke-width="1.9" />
<path d="M102.60,279.80V240.30M103.80,279.80V313.50M109.00,279.80V244.10M110.30,279.80V319.40M115.30,279.80V244.90M117.00,279.80V322.30M122.00,279.80V242.30M123.60,279.80V321.40" fill="none" stroke="#ff80ff" stroke-width="1.75" />
<path d="M102.30,279.80V284.50M108.80,279.80V284.50M115.20,279.80V284.50M121.80,279.80V284.50" fill="none" stroke="#ff80ff" stroke-width="2.0" />
<path d="M125.50,279.80H150.00" fill="none" stroke="#1f10d8" stroke-width="1.9" />
<path d="M127.10,279.80V237.20M129.20,279.80V324.80M133.70,279.80V234.10M135.70,279.80V328.60M140.10,279.80V236.40M141.90,279.80V329.50M146.80,279.80V237.20M148.20,279.80V326.50" fill="none" stroke="#1f10d8" stroke-width="1.75" />
<path d="M127.30,279.80V288.20M134.10,279.80V291.40M140.60,279.80V291.40M147.10,279.80V291.00" fill="none" stroke="#1f10d8" stroke-width="2.0" />
<path d="M150.00,279.80H174.50" fill="none" stroke="#3a8f2a" stroke-width="1.9" />
<path d="M151.40,279.80V234.90M152.70,279.80V337.40M158.00,279.80V233.10M159.60,279.80V333.00M164.60,279.80V235.40M165.90,279.80V338.00M171.00,279.80V234.60M172.60,279.80V338.00" fill="none" stroke="#3a8f2a" stroke-width="1.75" />
<path d="M153.00,279.80V272.90M160.50,279.80V276.30M166.20,279.80V269.40M172.60,279.80V261.00" fill="none" stroke="#3a8f2a" stroke-width="1.3" />
<path d="M151.10,279.80V304.60M158.00,279.80V296.40M164.60,279.80V302.70M171.60,279.80V296.40" fill="none" stroke="#3a8f2a" stroke-width="1.8" />
<path d="M174.50,279.80H200.00" fill="none" stroke="#f28a2e" stroke-width="1.9" />
<path d="M176.00,279.80V230.30M177.90,279.80V341.20M182.80,279.80V230.80M184.20,279.80V330.50M189.10,279.80V227.30M190.50,279.80V337.00M195.80,279.80V228.00M197.20,279.80V333.30" fill="none" stroke="#f28a2e" stroke-width="1.75" />
<path d="M176.00,279.80V292.00M182.70,279.80V292.70M189.20,279.80V290.10M196.20,279.80V291.40" fill="none" stroke="#f28a2e" stroke-width="2.0" />
<rect x="26.50" y="223.20" width="174.00" height="127.40" fill="none" stroke="#2e2e2e" stroke-width="1.3"/>
<path d="M26.50,225.30h2.8M26.50,252.50h2.8M26.50,279.70h2.8M26.50,306.90h2.8M26.50,334.10h2.8" fill="none" stroke="#2e2e2e" stroke-width="1.1" />
<path d="M26.50,238.90h1.6M26.50,266.10h1.6M26.50,293.30h1.6M26.50,320.50h1.6" fill="none" stroke="#2e2e2e" stroke-width="1.1" />
<text x="24.20" y="228.80" font-size="10" font-weight="bold" fill="#000" text-anchor="end" >4</text>
<text x="24.20" y="256.00" font-size="10" font-weight="bold" fill="#000" text-anchor="end" >2</text>
<text x="24.20" y="283.20" font-size="10" font-weight="bold" fill="#000" text-anchor="end" >0</text>
<text x="24.20" y="310.40" font-size="10" font-weight="bold" fill="#000" text-anchor="end" >-2</text>
<text x="24.20" y="337.60" font-size="10" font-weight="bold" fill="#000" text-anchor="end" >-4</text>
<text x="111.50" y="236.00" font-size="10" font-weight="bold" fill="#1208f5" text-anchor="middle" >PDMS</text>
<text x="41.50" y="349.30" font-size="9.6" font-weight="bold" fill="#3d9a8a" text-anchor="middle" >1N</text>
<text x="65.50" y="349.30" font-size="9.6" font-weight="bold" fill="#0a0a0a" text-anchor="middle" >2N</text>
<text x="90.00" y="349.30" font-size="9.6" font-weight="bold" fill="#7b1f8c" text-anchor="middle" >5N</text>
<text x="113.90" y="349.30" font-size="9.6" font-weight="bold" fill="#ff80ff" text-anchor="middle" >10N</text>
<text x="138.60" y="349.30" font-size="9.6" font-weight="bold" fill="#1f10d8" text-anchor="middle" >15N</text>
<text x="162.00" y="349.30" font-size="9.6" font-weight="bold" fill="#3a8f2a" text-anchor="middle" >20N</text>
<text x="188.30" y="349.30" font-size="9.6" font-weight="bold" fill="#f28a2e" text-anchor="middle" >30N</text>
<text x="8.60" y="286.20" font-size="11.6" font-weight="bold" fill="#000" text-anchor="middle" transform="rotate(-90 8.6 286.2)">Voltage(V)</text>
<path d="M249.40,291.00H275.50" fill="none" stroke="#3d9a8a" stroke-width="1.9" />
<path d="M254.00,291.00V275.00M253.10,291.00V305.70M260.90,291.00V273.00M259.60,291.00V309.80M267.30,291.00V271.40M266.10,291.00V311.40M273.70,291.00V271.90M272.60,291.00V309.80" fill="none" stroke="#3d9a8a" stroke-width="1.75" />
<path d="M275.50,291.00H300.00" fill="none" stroke="#0a0a0a" stroke-width="1.9" />
<path d="M278.30,291.00V269.80M277.00,291.00V313.80M284.80,291.00V269.00M284.00,291.00V316.70M291.40,291.00V269.40M290.40,291.00V319.00M298.00,291.00V272.00M296.80,291.00V318.10" fill="none" stroke="#0a0a0a" stroke-width="1.75" />
<path d="M300.00,291.00H324.50" fill="none" stroke="#7b1f8c" stroke-width="1.9" />
<path d="M303.00,291.00V260.70M301.50,291.00V313.40M309.50,291.00V259.90M307.80,291.00V317.40M316.00,291.00V259.90M314.30,291.00V318.10M322.50,291.00V257.90M321.00,291.00V318.50" fill="none" stroke="#7b1f8c" stroke-width="1.75" />
<path d="M324.50,291.00H349.50" fill="none" stroke="#ff80ff" stroke-width="1.9" />
<path d="M328.00,291.00V255.60M326.20,291.00V320.40M334.80,291.00V254.80M333.00,291.00V321.50M341.00,291.00V254.10M339.30,291.00V324.50M347.80,291.00V252.50M345.80,291.00V324.50" fill="none" stroke="#ff80ff" stroke-width="1.75" />
<path d="M326.40,291.00V284.70M333.00,291.00V285.50M339.60,291.00V284.70M346.20,291.00V284.70" fill="none" stroke="#ff80ff" stroke-width="2.0" />
<path d="M349.50,291.00H374.00" fill="none" stroke="#1f10d8" stroke-width="1.9" />
<path d="M352.00,291.00V251.80M350.50,291.00V326.20M358.70,291.00V252.20M356.90,291.00V324.50M365.40,291.00V251.00M363.60,291.00V327.50M372.00,291.00V250.20M370.10,291.00V326.20" fill="none" stroke="#1f10d8" stroke-width="1.75" />
<path d="M350.50,291.00V287.50M357.20,291.00V288.00M363.80,291.00V287.50M370.30,291.00V287.50" fill="none" stroke="#1f10d8" stroke-width="1.8" />
<path d="M374.00,291.00H398.50" fill="none" stroke="#3a8f2a" stroke-width="1.9" />
<path d="M376.60,291.00V239.10M374.90,291.00V327.60M383.00,291.00V242.60M381.20,291.00V325.50M389.60,291.00V241.40M388.00,291.00V321.50M396.00,291.00V242.30M394.50,291.00V326.90" fill="none" stroke="#3a8f2a" stroke-width="1.75" />
<path d="M375.00,291.00V286.30M381.40,291.00V285.50M387.90,291.00V284.50M394.50,291.00V284.50" fill="none" stroke="#3a8f2a" stroke-width="1.8" />
<path d="M398.50,291.00H423.00" fill="none" stroke="#f28a2e" stroke-width="1.9" />
<path d="M400.60,291.00V235.70M399.20,291.00V334.30M407.20,291.00V236.10M405.70,291.00V337.70M413.60,291.00V238.80M412.00,291.00V339.70M420.20,291.00V238.00M418.50,291.00V335.70" fill="none" stroke="#f28a2e" stroke-width="1.75" />
<path d="M399.20,291.00V282.60M405.80,291.00V284.00M412.20,291.00V280.40M418.70,291.00V282.40" fill="none" stroke="#f28a2e" stroke-width="2.0" />
<rect x="249.40" y="222.90" width="174.00" height="127.90" fill="none" stroke="#2e2e2e" stroke-width="1.3"/>
<path d="M249.40,226.10h2.8M249.40,258.50h2.8M249.40,290.90h2.8M249.40,323.30h2.8" fill="none" stroke="#2e2e2e" stroke-width="1.1" />
<path d="M249.40,242.30h1.6M249.40,274.70h1.6M249.40,307.10h1.6M249.40,339.50h1.6" fill="none" stroke="#2e2e2e" stroke-width="1.1" />
<text x="246.50" y="229.60" font-size="10" font-weight="bold" fill="#000" text-anchor="end" >4</text>
<text x="246.50" y="262.00" font-size="10" font-weight="bold" fill="#000" text-anchor="end" >2</text>
<text x="246.50" y="294.40" font-size="10" font-weight="bold" fill="#000" text-anchor="end" >0</text>
<text x="246.50" y="326.80" font-size="10" font-weight="bold" fill="#000" text-anchor="end" >-2</text>
<text x="337.50" y="236.10" font-size="9.8" font-weight="bold" fill="#ff1c1c" text-anchor="middle" >PEI(b)-PDMS</text>
<text x="264.70" y="349.30" font-size="9.6" font-weight="bold" fill="#3d9a8a" text-anchor="middle" >1N</text>
<text x="288.50" y="349.30" font-size="9.6" font-weight="bold" fill="#0a0a0a" text-anchor="middle" >2N</text>
<text x="313.50" y="349.30" font-size="9.6" font-weight="bold" fill="#7b1f8c" text-anchor="middle" >5N</text>
<text x="338.00" y="349.30" font-size="9.6" font-weight="bold" fill="#ff80ff" text-anchor="middle" >10N</text>
<text x="362.50" y="349.30" font-size="9.6" font-weight="bold" fill="#1f10d8" text-anchor="middle" >15N</text>
<text x="386.20" y="349.30" font-size="9.6" font-weight="bold" fill="#3a8f2a" text-anchor="middle" >20N</text>
<text x="412.50" y="349.30" font-size="9.6" font-weight="bold" fill="#f28a2e" text-anchor="middle" >30N</text>
<text x="231.20" y="286.00" font-size="11.6" font-weight="bold" fill="#000" text-anchor="middle" transform="rotate(-90 231.2 286)">Voltage(V)</text>
<line x1="478.60" y1="222.40" x2="669.50" y2="222.40" stroke="#2e2e2e" stroke-width="1.3" />
<line x1="478.60" y1="350.30" x2="669.50" y2="350.30" stroke="#2e2e2e" stroke-width="1.3" />
<line x1="478.60" y1="221.80" x2="478.60" y2="284.00" stroke="#2e2e2e" stroke-width="1.3" />
<line x1="478.60" y1="287.80" x2="478.60" y2="350.90" stroke="#2e2e2e" stroke-width="1.3" />
<line x1="669.50" y1="221.80" x2="669.50" y2="285.20" stroke="#2e2e2e" stroke-width="1.3" />
<line x1="669.50" y1="288.20" x2="669.50" y2="350.90" stroke="#2e2e2e" stroke-width="1.3" />
<path d="M478.60,229.55h2.8M478.60,252.80h2.8M478.60,276.05h2.8" fill="none" stroke="#2e2e2e" stroke-width="1.1" />
<path d="M478.60,241.18h1.6M478.60,264.43h1.6" fill="none" stroke="#2e2e2e" stroke-width="1.1" />
<path d="M478.60,296.15h2.8M478.60,319.40h2.8M478.60,342.65h2.8" fill="none" stroke="#2e2e2e" stroke-width="1.1" />
<path d="M478.60,307.77h1.6M478.60,331.02h1.6" fill="none" stroke="#2e2e2e" stroke-width="1.1" />
<text x="475.40" y="233.05" font-size="10" font-weight="bold" fill="#000" text-anchor="end" >3</text>
<text x="475.40" y="256.30" font-size="10" font-weight="bold" fill="#000" text-anchor="end" >0</text>
<text x="475.40" y="279.55" font-size="10" font-weight="bold" fill="#000" text-anchor="end" >-3</text>
<text x="475.40" y="299.65" font-size="10" font-weight="bold" fill="#000" text-anchor="end" >3</text>
<text x="475.40" y="322.90" font-size="10" font-weight="bold" fill="#000" text-anchor="end" >0</text>
<text x="475.40" y="346.15" font-size="10" font-weight="bold" fill="#000" text-anchor="end" >-3</text>
<path d="M479.2,252.7H535.3M540.3,252.7H601.4M606.1,252.7H669" fill="none" stroke="#0a00ff" stroke-width="2.0" />
<path d="M487.80,240.40V252.70M488.90,252.70V262.70M500.20,242.10V252.70M501.30,252.70V262.30M512.40,242.10V252.70M513.50,252.70V262.00M524.80,244.00V252.70M525.90,252.70V263.50M542.30,244.00V252.70M543.40,252.70V260.90M550.30,239.00V252.70M551.40,252.70V261.00M558.10,237.30V252.70M559.20,252.70V260.10M566.30,241.40V252.70M567.40,252.70V260.10M574.30,242.20V252.70M575.40,252.70V260.70M581.90,237.80V252.70M583.00,252.70V260.40M590.00,240.80V252.70M591.10,252.70V260.10M597.70,241.00V252.70M598.80,252.70V260.40M610.30,243.10V252.70M611.40,252.70V263.50M615.20,246.00V252.70M616.30,252.70V263.00M620.50,246.00V252.70M621.60,252.70V264.20M625.20,242.00V252.70M626.30,252.70V263.00M630.50,244.90V252.70M631.60,252.70V263.30M635.40,242.90V252.70M636.50,252.70V263.00M640.40,239.00V252.70M641.50,252.70V263.00M645.70,239.00V252.70M646.80,252.70V263.50M650.60,246.00V252.70M651.70,252.70V262.50M655.60,242.20V252.70M656.70,252.70V263.00M660.70,239.00V252.70M661.80,252.70V262.50M665.80,240.20V252.70M666.90,252.70V263.00" fill="none" stroke="#0a00ff" stroke-width="1.75" />
<path d="M487.30,251.50l2.0,2.4M499.70,251.50l2.0,2.4M511.90,251.50l2.0,2.4M524.30,251.50l2.0,2.4M541.80,251.50l2.0,2.4M549.80,251.50l2.0,2.4M557.60,251.50l2.0,2.4M565.80,251.50l2.0,2.4M573.80,251.50l2.0,2.4M581.40,251.50l2.0,2.4M589.50,251.50l2.0,2.4M597.20,251.50l2.0,2.4M609.80,251.50l2.0,2.4M614.70,251.50l2.0,2.4M620.00,251.50l2.0,2.4M624.70,251.50l2.0,2.4M630.00,251.50l2.0,2.4M634.90,251.50l2.0,2.4M639.90,251.50l2.0,2.4M645.20,251.50l2.0,2.4M650.10,251.50l2.0,2.4M655.10,251.50l2.0,2.4M660.20,251.50l2.0,2.4M665.30,251.50l2.0,2.4" fill="none" stroke="#0a00ff" stroke-width="2.2" />
<path d="M479.2,319.5H535.1M540.1,319.5H601.4M606.5,319.5H669" fill="none" stroke="#ff1c12" stroke-width="1.8" />
<path d="M488.50,319.5V308.90M501.00,319.5V309.20M513.10,319.5V308.90M525.30,319.5V308.90M543.50,319.5V311.40M551.20,319.5V310.80M558.80,319.5V313.10M566.50,319.5V312.20M574.60,319.5V311.50M582.70,319.5V311.50M590.80,319.5V311.80M598.90,319.5V311.50M611.20,319.5V307.00M616.50,319.5V306.40M621.40,319.5V307.00M626.50,319.5V308.40M631.50,319.5V305.00M636.50,319.5V305.70M641.50,319.5V307.70M646.60,319.5V308.40M651.80,319.5V306.80M656.80,319.5V306.40M661.80,319.5V307.70M666.60,319.5V309.00M487.50,319.5V332.40M500.00,319.5V331.30M512.00,319.5V334.00M524.30,319.5V332.40M542.20,319.5V332.00M550.30,319.5V333.40M558.10,319.5V335.40M565.80,319.5V332.70M573.60,319.5V330.70M581.60,319.5V334.70M589.50,319.5V333.40M597.60,319.5V332.00M610.10,319.5V334.70M615.10,319.5V329.30M620.00,319.5V330.00M625.30,319.5V332.70M630.40,319.5V332.00M635.40,319.5V331.40M640.30,319.5V335.40M645.70,319.5V335.70M650.70,319.5V330.70M655.40,319.5V332.00M660.50,319.5V335.40M665.50,319.5V334.70" fill="none" stroke="#ff1c12" stroke-width="1.6" />
<text x="488.30" y="231.70" font-size="9.5" font-weight="bold" fill="#1208f5" text-anchor="start" >PDMS</text>
<text x="488.00" y="297.20" font-size="9.7" font-weight="bold" fill="#ff1c1c" text-anchor="start" >PEI(b)-PDMS</text>
<text x="506.00" y="346.00" font-size="10" font-weight="bold" fill="#111" text-anchor="middle" >0.5Hz</text>
<text x="569.60" y="346.20" font-size="10" font-weight="bold" fill="#111" text-anchor="middle" >1Hz</text>
<text x="639.40" y="346.20" font-size="10" font-weight="bold" fill="#111" text-anchor="middle" >2Hz</text>
<text x="461.60" y="286.60" font-size="11.6" font-weight="bold" fill="#000" text-anchor="middle" transform="rotate(-90 461.6 286.6)">Voltage(V)</text>
<rect x="24.20" y="402.80" width="171.30" height="126.00" fill="none" stroke="#3a3a3a" stroke-width="1.3"/>
<path d="M24.20,518.30h2.8M24.20,465.65h2.8M24.20,413.00h2.8" fill="none" stroke="#3a3a3a" stroke-width="1.1" />
<path d="M24.20,491.97h1.6M24.20,439.32h1.6" fill="none" stroke="#3a3a3a" stroke-width="1.1" />
<path d="M51.87,528.8v-2.8M79.53,528.8v-2.8M107.20,528.8v-2.8M134.86,528.8v-2.8M162.53,528.8v-2.8M190.19,528.8v-2.8" fill="none" stroke="#3a3a3a" stroke-width="1.1" />
<text x="21.50" y="521.10" font-size="10" font-weight="bold" fill="#000" text-anchor="end" >0</text>
<text x="21.50" y="468.45" font-size="10" font-weight="bold" fill="#000" text-anchor="end" >1</text>
<text x="21.50" y="415.80" font-size="10" font-weight="bold" fill="#000" text-anchor="end" >2</text>
<text x="24.20" y="539.70" font-size="9.8" font-weight="bold" fill="#000" text-anchor="middle" >0</text>
<text x="51.87" y="539.70" font-size="9.8" font-weight="bold" fill="#000" text-anchor="middle" >5</text>
<text x="79.53" y="539.70" font-size="9.8" font-weight="bold" fill="#000" text-anchor="middle" >10</text>
<text x="107.20" y="539.70" font-size="9.8" font-weight="bold" fill="#000" text-anchor="middle" >15</text>
<text x="134.86" y="539.70" font-size="9.8" font-weight="bold" fill="#000" text-anchor="middle" >20</text>
<text x="162.53" y="539.70" font-size="9.8" font-weight="bold" fill="#000" text-anchor="middle" >25</text>
<text x="190.19" y="539.70" font-size="9.8" font-weight="bold" fill="#000" text-anchor="middle" >30</text>
<text x="110.00" y="551.80" font-size="10.6" font-weight="bold" fill="#000" text-anchor="middle" >Distance(mm)</text>
<text x="9.30" y="465.00" font-size="11.6" font-weight="bold" fill="#000" text-anchor="middle" transform="rotate(-90 9.3 465)">Voltage(V)</text>
<path d="M35.27,478.81L40.80,470.91L51.87,465.65L79.53,457.75L107.20,449.85L118.26,444.59L123.79,434.06L134.86,413.00L162.53,410.37L190.19,414.05" fill="none" stroke="#0a00ff" stroke-width="1.3" stroke-dasharray="1.3 3.6"/>
<path d="M35.27,505.14L40.80,505.14L51.87,502.50L79.53,497.24L107.20,491.97L118.26,486.71L123.79,476.18L134.86,439.32L162.53,441.96L190.19,440.38" fill="none" stroke="#ff1a1a" stroke-width="1.3" stroke-dasharray="1.3 3.6"/>
<rect x="32.67" y="476.31" width="5.20" height="5.20" fill="#0a00ff" />
<rect x="38.20" y="468.41" width="5.20" height="5.20" fill="#0a00ff" />
<rect x="49.27" y="463.15" width="5.20" height="5.20" fill="#0a00ff" />
<rect x="76.93" y="455.25" width="5.20" height="5.20" fill="#0a00ff" />
<rect x="104.60" y="447.35" width="5.20" height="5.20" fill="#0a00ff" />
<rect x="115.66" y="442.09" width="5.20" height="5.20" fill="#0a00ff" />
<rect x="121.19" y="431.56" width="5.20" height="5.20" fill="#0a00ff" />
<rect x="132.26" y="410.50" width="5.20" height="5.20" fill="#0a00ff" />
<rect x="159.93" y="407.87" width="5.20" height="5.20" fill="#0a00ff" />
<rect x="187.59" y="411.55" width="5.20" height="5.20" fill="#0a00ff" />
<polygon points="35.27,501.74 38.67,505.14 35.27,508.54 31.87,505.14" fill="#ff1a1a" />
<polygon points="40.80,501.74 44.20,505.14 40.80,508.54 37.40,505.14" fill="#ff1a1a" />
<polygon points="51.87,499.10 55.27,502.50 51.87,505.90 48.47,502.50" fill="#ff1a1a" />
<polygon points="79.53,493.84 82.93,497.24 79.53,500.64 76.13,497.24" fill="#ff1a1a" />
<polygon points="107.20,488.57 110.60,491.97 107.20,495.37 103.80,491.97" fill="#ff1a1a" />
<polygon points="118.26,483.31 121.66,486.71 118.26,490.11 114.86,486.71" fill="#ff1a1a" />
<polygon points="123.79,472.78 127.19,476.18 123.79,479.58 120.39,476.18" fill="#ff1a1a" />
<polygon points="134.86,435.92 138.26,439.32 134.86,442.72 131.46,439.32" fill="#ff1a1a" />
<polygon points="162.53,438.56 165.93,441.96 162.53,445.36 159.12,441.96" fill="#ff1a1a" />
<polygon points="190.19,436.98 193.59,440.38 190.19,443.78 186.79,440.38" fill="#ff1a1a" />
<text x="78.30" y="448.70" font-size="10.2" font-weight="bold" fill="#0a00ff" text-anchor="middle" >PDMS</text>
<text x="49.20" y="487.30" font-size="9.8" font-weight="bold" fill="#ff1a1a" text-anchor="start" >PEI(b)-PDMS</text>
<line x1="248.40" y1="402.70" x2="437.30" y2="402.70" stroke="#2e2e2e" stroke-width="1.3" />
<line x1="248.40" y1="529.00" x2="437.30" y2="529.00" stroke="#2e2e2e" stroke-width="1.3" />
<line x1="248.40" y1="402.10" x2="248.40" y2="463.40" stroke="#2e2e2e" stroke-width="1.3" />
<line x1="248.40" y1="467.00" x2="248.40" y2="529.60" stroke="#2e2e2e" stroke-width="1.3" />
<line x1="437.30" y1="402.10" x2="437.30" y2="463.80" stroke="#2e2e2e" stroke-width="1.3" />
<line x1="437.30" y1="467.80" x2="437.30" y2="529.60" stroke="#2e2e2e" stroke-width="1.3" />
<path d="M248.40,405.60h2.8M248.40,419.10h2.8M248.40,432.60h2.8M248.40,446.10h2.8M248.40,459.60h2.8" fill="none" stroke="#2e2e2e" stroke-width="1.1" />
<path d="M248.40,412.35h1.6M248.40,425.85h1.6M248.40,439.35h1.6M248.40,452.85h1.6" fill="none" stroke="#2e2e2e" stroke-width="1.1" />
<path d="M248.40,470.80h2.8M248.40,484.50h2.8M248.40,498.20h2.8M248.40,511.90h2.8M248.40,525.60h2.8" fill="none" stroke="#2e2e2e" stroke-width="1.1" />
<path d="M248.40,477.65h1.6M248.40,491.35h1.6M248.40,505.05h1.6M248.40,518.75h1.6" fill="none" stroke="#2e2e2e" stroke-width="1.1" />
<text x="246.40" y="409.00" font-size="9.6" font-weight="bold" fill="#000" text-anchor="end" >4</text>
<text x="246.40" y="474.20" font-size="9.6" font-weight="bold" fill="#000" text-anchor="end" >4</text>
<text x="246.40" y="422.50" font-size="9.6" font-weight="bold" fill="#000" text-anchor="end" >2</text>
<text x="246.40" y="487.90" font-size="9.6" font-weight="bold" fill="#000" text-anchor="end" >2</text>
<text x="246.40" y="436.00" font-size="9.6" font-weight="bold" fill="#000" text-anchor="end" >0</text>
<text x="246.40" y="501.60" font-size="9.6" font-weight="bold" fill="#000" text-anchor="end" >0</text>
<text x="246.40" y="449.50" font-size="9.6" font-weight="bold" fill="#000" text-anchor="end" >-2</text>
<text x="246.40" y="515.30" font-size="9.6" font-weight="bold" fill="#000" text-anchor="end" >-2</text>
<text x="246.40" y="463.00" font-size="9.6" font-weight="bold" fill="#000" text-anchor="end" >-4</text>
<text x="246.40" y="529.00" font-size="9.6" font-weight="bold" fill="#000" text-anchor="end" >-4</text>
<path d="M286.35,529.0v-2.8M324.00,529.0v-2.8M361.65,529.0v-2.8M399.30,529.0v-2.8M267.52,529.0v-1.6M305.18,529.0v-1.6M342.82,529.0v-1.6M380.48,529.0v-1.6M418.12,529.0v-1.6" fill="none" stroke="#2e2e2e" stroke-width="1.1" />
<text x="248.70" y="539.70" font-size="9.9" font-weight="bold" fill="#000" text-anchor="middle" >0</text>
<text x="286.35" y="539.70" font-size="9.9" font-weight="bold" fill="#000" text-anchor="middle" >2000</text>
<text x="324.00" y="539.70" font-size="9.9" font-weight="bold" fill="#000" text-anchor="middle" >4000</text>
<text x="361.65" y="539.70" font-size="9.9" font-weight="bold" fill="#000" text-anchor="middle" >6000</text>
<text x="399.30" y="539.70" font-size="9.9" font-weight="bold" fill="#000" text-anchor="middle" >8000</text>
<text x="436.95" y="539.70" font-size="9.9" font-weight="bold" fill="#000" text-anchor="middle" >10000</text>
<text x="345.20" y="552.10" font-size="10.8" font-weight="bold" fill="#000" text-anchor="middle" >Time(s)</text>
<text x="231.30" y="469.60" font-size="11.4" font-weight="bold" fill="#000" text-anchor="middle" transform="rotate(-90 231.3 469.6)">Voltage(V)</text>
<polygon points="249.00,414.67 250.56,415.26 252.13,415.04 253.69,415.20 255.26,414.72 256.82,415.41 258.38,415.37 259.95,415.10 261.51,414.93 263.08,415.56 264.64,414.79 266.21,415.63 267.77,415.00 269.33,414.86 270.90,415.25 272.46,415.08 274.03,415.09 275.59,415.18 277.15,415.69 278.72,415.54 280.28,415.88 281.85,415.11 283.41,415.68 284.98,415.89 286.54,415.82 288.10,415.36 289.67,415.91 291.23,415.59 292.80,415.19 294.36,415.90 295.93,415.36 297.49,415.85 299.05,415.58 300.62,415.72 302.18,415.76 303.75,415.75 305.31,415.37 306.87,416.24 308.44,415.73 310.00,415.85 311.57,416.11 313.13,416.21 314.69,415.92 316.26,416.00 317.82,415.75 319.39,416.39 320.95,416.25 322.52,416.37 324.08,416.32 325.64,416.12 327.21,415.68 328.77,416.17 330.34,416.13 331.90,416.02 333.46,416.20 335.03,416.29 336.59,415.79 338.16,415.94 339.72,416.58 341.29,416.55 342.85,416.08 344.41,416.48 345.98,415.91 347.54,416.60 349.11,416.04 350.67,416.27 352.24,416.12 353.80,416.15 355.36,416.66 356.93,416.33 358.49,416.09 360.06,416.47 361.62,416.21 363.18,416.59 364.75,416.70 366.31,416.19 367.88,416.33 369.44,416.36 371.00,416.85 372.57,416.46 374.13,417.00 375.70,416.51 377.26,416.68 378.83,416.64 380.39,416.42 381.95,417.26 383.52,416.69 385.08,416.71 386.65,417.13 388.21,416.71 389.77,417.29 391.34,417.26 392.90,417.06 394.47,417.35 396.03,417.22 397.60,416.95 399.16,416.82 400.72,417.04 402.29,416.77 403.85,416.96 405.42,417.01 406.98,417.55 408.54,416.94 410.11,417.67 411.67,417.11 413.24,417.43 414.80,417.69 416.37,417.66 417.93,417.33 419.49,417.12 421.06,417.01 422.62,417.77 424.19,417.66 425.75,417.76 427.31,417.33 428.88,417.82 430.44,417.92 432.01,417.21 433.57,417.20 435.14,417.19 436.70,417.86 436.70,447.50 435.14,447.55 433.57,446.82 432.01,447.30 430.44,447.62 428.88,447.38 427.31,447.11 425.75,447.20 424.19,447.42 422.62,447.09 421.06,447.07 419.49,447.59 417.93,447.84 416.37,447.59 414.80,447.29 413.24,447.75 411.67,447.21 410.11,447.74 408.54,447.34 406.98,447.08 405.42,447.87 403.85,447.55 402.29,447.72 400.72,447.31 399.16,447.76 397.60,447.48 396.03,447.64 394.47,448.08 392.90,447.37 391.34,448.10 389.77,447.28 388.21,447.27 386.65,447.66 385.08,448.15 383.52,448.09 381.95,448.12 380.39,447.62 378.83,447.93 377.26,447.90 375.70,447.98 374.13,447.88 372.57,448.31 371.00,447.94 369.44,448.10 367.88,448.13 366.31,447.52 364.75,448.25 363.18,447.72 361.62,448.36 360.06,447.74 358.49,447.93 356.93,448.03 355.36,448.03 353.80,447.88 352.24,448.12 350.67,447.73 349.11,448.25 347.54,447.92 345.98,447.73 344.41,447.81 342.85,448.51 341.29,448.50 339.72,448.50 338.16,448.33 336.59,448.02 335.03,448.25 333.46,448.41 331.90,448.18 330.34,448.32 328.77,448.08 327.21,448.70 325.64,448.32 324.08,448.42 322.52,448.63 320.95,448.72 319.39,448.01 317.82,448.51 316.26,448.45 314.69,448.91 313.13,448.28 311.57,448.57 310.00,448.98 308.44,448.27 306.87,448.67 305.31,448.78 303.75,448.19 302.18,448.54 300.62,448.90 299.05,448.61 297.49,448.84 295.93,448.74 294.36,448.64 292.80,448.50 291.23,448.83 289.67,449.08 288.10,448.86 286.54,448.95 284.98,448.75 283.41,449.02 281.85,448.70 280.28,449.19 278.72,448.60 277.15,448.95 275.59,448.49 274.03,448.90 272.46,448.71 270.90,448.96 269.33,448.73 267.77,448.93 266.21,448.91 264.64,449.07 263.08,448.63 261.51,449.47 259.95,449.28 258.38,448.65 256.82,449.06 255.26,448.71 253.69,449.41 252.13,449.12 250.56,448.96 249.00,449.51" fill="#1400fc" />
<polygon points="249.00,489.71 250.56,488.91 252.13,489.61 253.69,489.47 255.26,489.42 256.82,489.40 258.38,489.27 259.95,489.54 261.51,489.75 263.08,489.30 264.64,488.94 266.21,489.33 267.77,489.26 269.33,489.40 270.90,489.14 272.46,489.23 274.03,489.40 275.59,489.56 277.15,489.76 278.72,489.62 280.28,489.65 281.85,489.29 283.41,489.84 284.98,489.66 286.54,489.41 288.10,489.44 289.67,489.45 291.23,489.33 292.80,489.82 294.36,489.53 295.93,489.68 297.49,489.23 299.05,489.67 300.62,489.86 302.18,489.87 303.75,489.92 305.31,489.51 306.87,489.65 308.44,489.35 310.00,489.54 311.57,489.64 313.13,489.83 314.69,489.91 316.26,489.77 317.82,489.69 319.39,489.32 320.95,489.21 322.52,489.89 324.08,489.32 325.64,489.52 327.21,489.17 328.77,489.30 330.34,489.23 331.90,489.18 333.46,489.18 335.03,489.90 336.59,489.34 338.16,489.53 339.72,490.08 341.29,489.23 342.85,489.75 344.41,489.31 345.98,489.24 347.54,489.91 349.11,490.04 350.67,490.01 352.24,489.66 353.80,489.84 355.36,489.34 356.93,490.04 358.49,489.78 360.06,489.73 361.62,490.13 363.18,489.82 364.75,489.30 366.31,489.41 367.88,489.32 369.44,489.39 371.00,489.76 372.57,490.15 374.13,489.53 375.70,489.55 377.26,489.89 378.83,489.97 380.39,489.72 381.95,489.35 383.52,489.72 385.08,490.01 386.65,489.45 388.21,489.58 389.77,489.84 391.34,489.66 392.90,489.58 394.47,490.26 396.03,489.79 397.60,489.93 399.16,489.79 400.72,489.58 402.29,490.14 403.85,489.89 405.42,489.98 406.98,490.32 408.54,489.46 410.11,489.54 411.67,490.21 413.24,489.48 414.80,489.84 416.37,489.66 417.93,489.55 419.49,489.82 421.06,489.56 422.62,489.67 424.19,489.86 425.75,490.19 427.31,489.62 428.88,489.59 430.44,490.10 432.01,490.16 433.57,490.13 435.14,490.20 436.70,489.87 436.70,509.56 435.14,509.62 433.57,509.90 432.01,509.25 430.44,510.12 428.88,510.05 427.31,509.42 425.75,509.69 424.19,509.78 422.62,509.90 421.06,510.10 419.49,510.29 417.93,509.73 416.37,510.03 414.80,509.96 413.24,509.96 411.67,510.18 410.11,509.88 408.54,510.25 406.98,509.99 405.42,509.94 403.85,510.54 402.29,510.07 400.72,509.85 399.16,510.26 397.60,509.86 396.03,510.30 394.47,510.53 392.90,510.71 391.34,510.50 389.77,510.37 388.21,510.17 386.65,510.17 385.08,510.25 383.52,510.16 381.95,510.12 380.39,510.58 378.83,510.37 377.26,510.88 375.70,510.72 374.13,510.62 372.57,511.14 371.00,511.16 369.44,510.87 367.88,510.47 366.31,510.40 364.75,510.88 363.18,510.78 361.62,510.66 360.06,510.59 358.49,510.84 356.93,510.62 355.36,510.94 353.80,510.85 352.24,510.79 350.67,511.25 349.11,511.32 347.54,511.34 345.98,511.10 344.41,511.03 342.85,511.42 341.29,511.09 339.72,510.94 338.16,510.87 336.59,511.48 335.03,511.02 333.46,511.14 331.90,511.59 330.34,511.82 328.77,511.60 327.21,511.34 325.64,511.69 324.08,511.86 322.52,511.32 320.95,511.59 319.39,511.94 317.82,511.42 316.26,511.26 314.69,511.40 313.13,511.91 311.57,511.35 310.00,512.15 308.44,511.52 306.87,511.89 305.31,511.86 303.75,512.05 302.18,511.72 300.62,511.71 299.05,511.65 297.49,511.82 295.93,511.99 294.36,512.40 292.80,512.02 291.23,512.42 289.67,512.41 288.10,512.52 286.54,512.19 284.98,512.38 283.41,511.91 281.85,512.67 280.28,512.53 278.72,512.66 277.15,512.59 275.59,512.06 274.03,512.82 272.46,512.07 270.90,512.00 269.33,512.51 267.77,512.83 266.21,512.34 264.64,512.11 263.08,512.35 261.51,512.63 259.95,513.06 258.38,512.54 256.82,512.36 255.26,512.79 253.69,512.55 252.13,512.96 250.56,512.40 249.00,513.20" fill="#ff2212" />
<line x1="268.40" y1="408.90" x2="291.10" y2="408.90" stroke="#1208f5" stroke-width="1.6" />
<text x="294.90" y="412.20" font-size="9.4" font-weight="bold" fill="#1208f5" text-anchor="start" >PDMS</text>
<line x1="268.50" y1="472.10" x2="291.50" y2="472.10" stroke="#ff1c1c" stroke-width="1.6" />
<text x="294.50" y="476.00" font-size="9.6" font-weight="bold" fill="#ff1c1c" text-anchor="start" >PEI(b)-PDMS</text>
<line x1="253.00" y1="465.20" x2="432.00" y2="465.20" stroke="#e8b23a" stroke-width="1.4" />
<polygon points="251.30,465.20 256.00,463.20 256.00,467.20" fill="#e8b23a" />
<polygon points="433.80,465.20 429.00,463.20 429.00,467.20" fill="#e8b23a" />
<text x="341.80" y="463.30" font-size="10" font-weight="bold" fill="#111" text-anchor="middle" >12, 500 cycles</text>
<text x="234.40" y="397.00" font-size="13.3" font-weight="bold" fill="#000" text-anchor="start" >(i)</text>
<text x="455.40" y="397.00" font-size="13.3" font-weight="bold" fill="#000" text-anchor="start" >(ii)</text>
<rect x="476.40" y="402.60" width="193.90" height="127.60" fill="none" stroke="#2e2e2e" stroke-width="1.3"/>
<ellipse cx="508.8" cy="435.8" rx="30.3" ry="26.3" fill="#b1d0ea"/>
<ellipse cx="574.0" cy="435.9" rx="30.2" ry="26.4" fill="#b1d0ea"/>
<ellipse cx="638.6" cy="435.9" rx="30.6" ry="26.4" fill="#b1d0ea"/>
<ellipse cx="508.6" cy="499.7" rx="30.5" ry="26.6" fill="#e9b896"/>
<ellipse cx="574.0" cy="499.7" rx="30.2" ry="26.6" fill="#e9b896"/>
<ellipse cx="638.3" cy="499.6" rx="30.8" ry="26.5" fill="#e9b896"/>
<line x1="539.60" y1="402.60" x2="539.60" y2="530.20" stroke="#333" stroke-width="1.0" stroke-dasharray="3 2"/>
<line x1="605.40" y1="402.60" x2="605.40" y2="530.20" stroke="#333" stroke-width="1.0" stroke-dasharray="3 2"/>
<path d="M477.6,436.9 L493.0,436.5 C495.4,436.3 496.2,434.2 496.5,430.7 L497.0,408.4 L497.4,441.3 L497.8,435.2 L498.8,436.7 L521.9,437.0 C523.5,437.2 524.1999999999999,439.2 524.5,442.7 L524.9,464.3 L525.4,442.7 C525.6999999999999,438.7 526.6999999999999,437.0 528.4,437.0 L538.8,437.0" fill="none" stroke="#2a2af0" stroke-width="1.6" stroke-linejoin="round"/>
<path d="M542.8,436.8 L557.7,436.40000000000003 C560.1,436.20000000000005 560.9000000000001,434.1 561.2,430.6 L561.7,411.8 L562.1,441.20000000000005 L562.5,435.1 L563.5,436.6 L587.2,436.90000000000003 C588.8000000000001,437.1 589.5,439.1 589.8000000000001,442.6 L590.2,464.6 L590.7,442.6 C591.0,438.6 592.0,436.90000000000003 593.7,436.90000000000003 L604.4,436.90000000000003" fill="none" stroke="#2a2af0" stroke-width="1.6" stroke-linejoin="round"/>
<path d="M607.2,436.8 L622.8,436.40000000000003 C625.1999999999999,436.20000000000005 626.0,434.1 626.3,430.6 L626.8,415.2 L627.1999999999999,441.20000000000005 L627.5999999999999,435.1 L628.5999999999999,436.6 L652.2,436.90000000000003 C653.8000000000001,437.1 654.5,439.1 654.8000000000001,442.6 L655.2,463.9 L655.7,442.6 C656.0,438.6 657.0,436.90000000000003 658.7,436.90000000000003 L669.4,436.90000000000003" fill="none" stroke="#2a2af0" stroke-width="1.6" stroke-linejoin="round"/>
<path d="M477.6,498.7 L493.90000000000003,498.9 C495.6,499.2 496.40000000000003,501.7 496.70000000000005,505.2 L497.1,527.1 L497.6,496.09999999999997 L498.1,500.2 L499.3,498.9 L521.8,498.7 C523.7,498.4 524.3,495.7 524.6,490.7 L525.0,475.5 L525.6,490.7 C525.9,496.2 527.0,498.4 529.0,498.7 L538.8,498.7" fill="none" stroke="#f0401e" stroke-width="1.6" stroke-linejoin="round"/>
<path d="M542.8,498.6 L558.5999999999999,498.8 C560.3,499.1 561.0999999999999,501.6 561.4,505.1 L561.8,523.4 L562.3,496.0 L562.8,500.1 L564.0,498.8 L586.4,498.6 C588.3000000000001,498.3 588.9,495.6 589.2,490.6 L589.6,475.6 L590.2,490.6 C590.5,496.1 591.6,498.3 593.6,498.6 L604.4,498.6" fill="none" stroke="#f0401e" stroke-width="1.6" stroke-linejoin="round"/>
<path d="M607.2,498.4 L624.0,498.59999999999997 C625.7,498.9 626.5,501.4 626.8000000000001,504.9 L627.2,519.4 L627.7,495.79999999999995 L628.2,499.9 L629.4000000000001,498.59999999999997 L651.6999999999999,498.4 C653.6,498.09999999999997 654.1999999999999,495.4 654.5,490.4 L654.9,475.6 L655.5,490.4 C655.8,495.9 656.9,498.09999999999997 658.9,498.4 L669.4,498.4" fill="none" stroke="#f0401e" stroke-width="1.6" stroke-linejoin="round"/>
<text x="478.60" y="413.20" font-size="10.5" font-weight="bold" fill="#000" text-anchor="start" >(1)</text>
<text x="542.40" y="413.00" font-size="10.5" font-weight="bold" fill="#000" text-anchor="start" >(2)</text>
<text x="607.60" y="413.00" font-size="10.5" font-weight="bold" fill="#000" text-anchor="start" >(3)</text>
<text x="508.60" y="472.30" font-size="9.9" font-weight="bold" fill="#111" text-anchor="middle" >4,000 cycles</text>
<text x="573.00" y="472.30" font-size="9.9" font-weight="bold" fill="#111" text-anchor="middle" >8,000 cycles</text>
<text x="638.30" y="472.30" font-size="9.9" font-weight="bold" fill="#111" text-anchor="middle" >12,000 cycles</text>
</svg></body></html>
